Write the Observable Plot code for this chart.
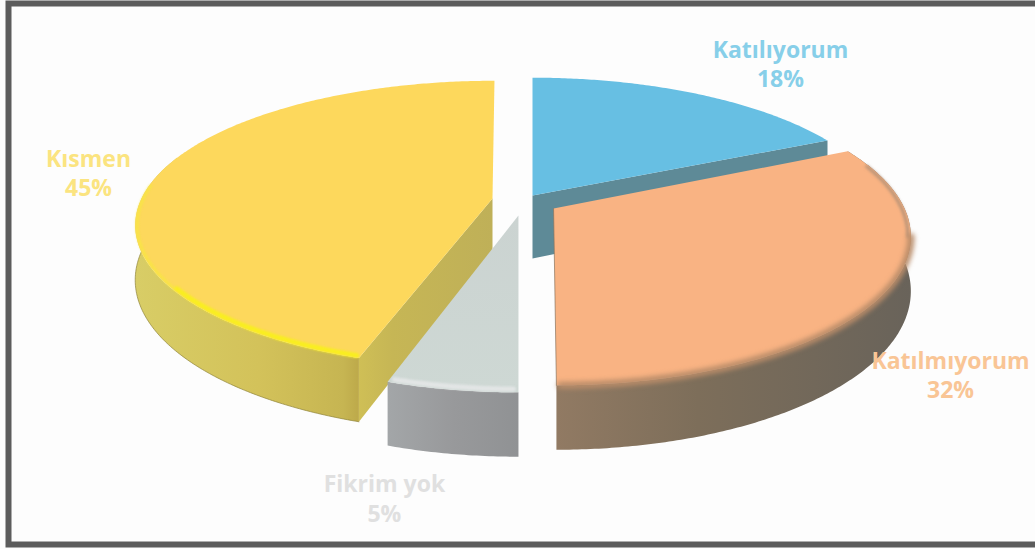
<!DOCTYPE html>
<html>
<head>
<meta charset="utf-8">
<script src="https://cdn.jsdelivr.net/npm/d3@7"></script>
<script src="https://cdn.jsdelivr.net/npm/@observablehq/plot@0.6"></script>
<style>
  html, body { margin: 0; padding: 0; background: #fdfdfd; }
  svg { display: block; }
</style>
</head>
<body>
<script>
// Survey answers, clockwise from twelve o'clock.
const categories = ["Katılıyorum", "Katılmıyorum", "Fikrim yok", "Kısmen"];
const shares = [18, 32, 5, 45];
const labelColors = ["#87cfe9", "#f9c595", "#e0e0e0", "#fbe480"];

// Label anchors in pie-plane units (one unit = one radius).
const labelX = [0.7635, 1.248, -0.365, -1.208];
const labelY = [-1.025, 1.213, 2.1, -0.241];

// How each wedge is pulled out of the pie, and its height.
const offsetX = [0.057, 0.117, 0.017, -0.057];
const offsetY = [-0.072, 0.022, 0.072, -0.05];
const foreshorten = [1, 1.043, 1.043, 1];
const lean = [0, 0.037, 0, -0.037];
const thickness = [0.453, 0.38, 0.38, 0.38];

const perspective = 0.18;
const unitX = 351, unitY = 139, originX = 512, originY = 205;
const W = 1035, H = 549;

// Cumulative slice angles, in radians.
const edges = [0, ...d3.cumsum(shares)].map((p) => (p / 100) * 2 * Math.PI);

function project(i, theta, r = 1, drop = 0) {
  const u = r * Math.sin(theta), v = r * Math.cos(theta);
  const s = 1 / (1 + perspective * v);
  return {
    x: offsetX[i] + (u + lean[i]) * s - lean[i],
    y: offsetY[i] - foreshorten[i] * v * s + drop * thickness[i] * s
  };
}

function arc(i, from = edges[i], to = edges[i + 1], drop = 0, r = 1) {
  const n = Math.max(2, Math.ceil(Math.abs(to - from) / 0.01));
  return d3.range(n + 1).map((k) => project(i, from + ((to - from) * k) / n, r, drop));
}

const topFace = (i) => [project(i, 0, 0), ...arc(i)];
const outerWall = (i, from, to) => [...arc(i, from, to), ...arc(i, from, to, 1).reverse()];
const cutWall = (i, theta) => [
  project(i, 0, 0), project(i, theta), project(i, theta, 1, 1), project(i, 0, 0, 1)
];

const poly = (points, fill) => Plot.line(points, {x: "x", y: "y", fill, stroke: "none"});
const rim = (points, stroke, strokeWidth, blur, strokeOpacity = 1) =>
  Plot.line(points, {x: "x", y: "y", stroke, strokeWidth, strokeOpacity, imageFilter: `blur(${blur}px)`});

const gradient = (id, stops, x2 = 1, y2 = 0) =>
  `<linearGradient id="${id}" x1="0" y1="0" x2="${x2}" y2="${y2}">` +
  stops.map(([o, c]) => `<stop offset="${o}" stop-color="${c}"/>`).join("") +
  `</linearGradient>`;

const defs = () =>
  d3.create("svg:defs").html(
    gradient("yellowWall", [[0, "#d8cd66"], [0.55, "#d3c25a"], [0.93, "#c6b552"], [1, "#bda94a"]]) +
    gradient("yellowCut", [[0, "#cfbf56"], [0.25, "#c6b655"], [1, "#bfb058"]]) +
    gradient("greyTop", [[0, "#cbd3d1"], [1, "#ced8d4"]], 0, 1) +
    gradient("greyWall", [[0, "#a3a6a8"], [0.5, "#98999b"], [1, "#909294"]]) +
    gradient("orangeWall", [[0, "#917a63"], [0.4, "#7d6e5a"], [1, "#69635a"]])
  ).node();

const Y = 3, G = 2, O = 1, B = 0;
const [blueEnd, orangeEnd, greyEnd] = [edges[1], edges[2], edges[3]];

const chart = Plot.plot({
  width: W,
  height: H,
  margin: 0,
  style: {background: "#fdfdfd"},
  x: {domain: [-originX / unitX, (W - originX) / unitX], axis: null},
  y: {domain: [(H - originY) / unitY, -originY / unitY], axis: null},
  marks: [
    defs,
    // Page border, running off the right edge
    Plot.frame({stroke: "#5c5c5c", strokeWidth: 6, insetLeft: 8, insetTop: 3, insetBottom: 5, insetRight: -12}),

    // Blue wedge: cut face sits behind everything else
    poly(cutWall(B, blueEnd), "#5e8a97"),

    // Yellow wedge
    poly(outerWall(Y, greyEnd, 1.6 * Math.PI), "url(#yellowWall)"),
    rim(arc(Y, greyEnd, 1.6 * Math.PI, 1), "#8f8338", 1, 0.4, 0.7),
    poly(cutWall(Y, greyEnd), "url(#yellowCut)"),
    poly(topFace(Y), "#fdd85c"),
    rim(arc(Y, 1.3 * Math.PI, 1.53 * Math.PI, 0, 0.995), "#f6ea3c", 3, 1, 0.7),
    rim(arc(Y, greyEnd + 0.01, 1.3 * Math.PI, 0, 0.99), "#f9ee20", 5, 1),

    // Grey wedge
    poly(outerWall(G, orangeEnd, greyEnd), "url(#greyWall)"),
    poly(topFace(G), "url(#greyTop)"),
    rim(arc(G, orangeEnd + 0.012, greyEnd - 0.012, 0, 0.985), "#e2e5e5", 5, 1),

    // Blue top
    poly(topFace(B), "#67bfe3"),

    // Orange wedge
    poly(outerWall(O, blueEnd, orangeEnd), "url(#orangeWall)"),
    poly(topFace(O), "#f9b383"),
    rim(arc(O, 0.4 * Math.PI, 0.56 * Math.PI, 0, 0.992), "#a58a73", 3, 1.5, 0.8),
    rim(arc(O, 0.56 * Math.PI, orangeEnd - 0.01), "#b98c69", 7, 2.5),
    Plot.line([project(O, orangeEnd), project(O, 0, 0)], {x: "x", y: "y", stroke: "#8a735c", strokeWidth: 1, strokeOpacity: 0.7}),

    // Category and percentage labels
    Plot.text(categories, {
      x: labelX,
      y: labelY,
      text: (d, i) => `${d}\n${shares[i]}%`,
      fill: labelColors,
      fontFamily: "Open Sans",
      fontWeight: "bold",
      fontSize: 23,
      lineHeight: 1.28
    })
  ]
});

document.body.append(chart);
</script>
</body>
</html>
